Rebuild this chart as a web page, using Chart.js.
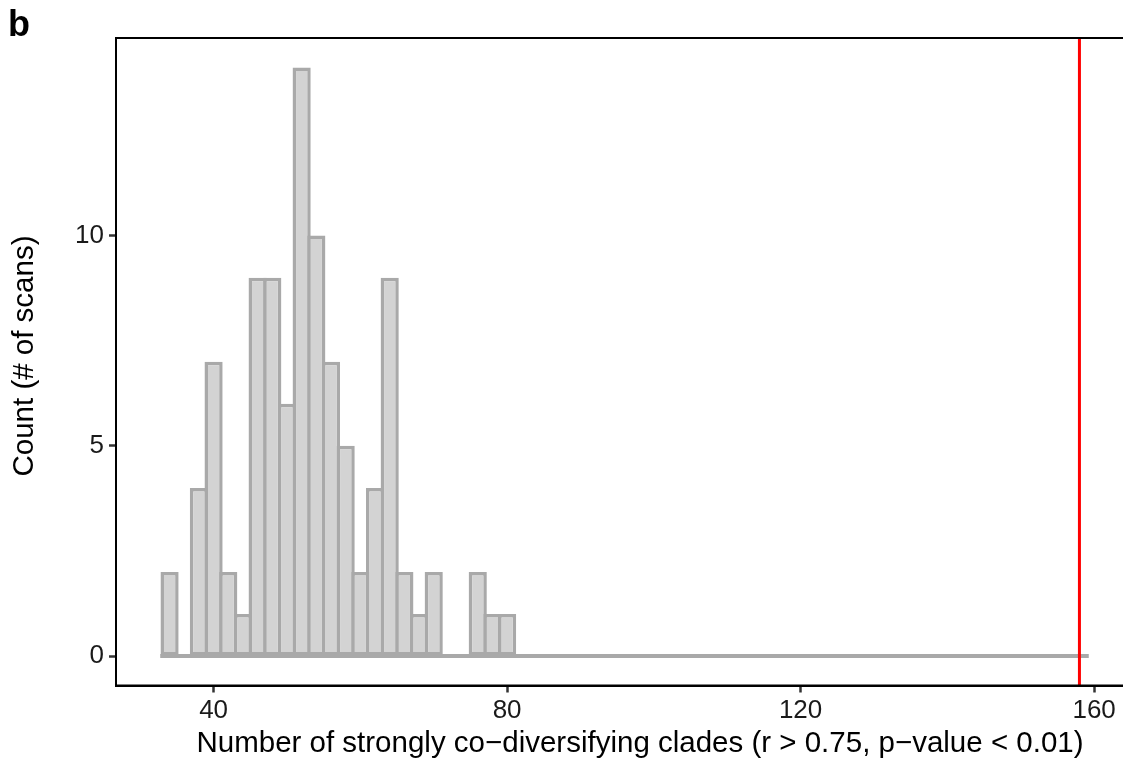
<!DOCTYPE html>
<html>
<head>
<meta charset="utf-8">
<script src="https://cdn.jsdelivr.net/npm/chart.js@4.4.1/dist/chart.umd.min.js"></script>
<style>
  html, body { margin: 0; padding: 0; background: #ffffff; overflow: hidden; width: 1123px; height: 761px; }
  #wrap { position: relative; width: 1150px; height: 761px; }
  canvas { position: absolute; left: 0; top: 0; }
  .txt { position: absolute; font-family: "Liberation Sans", Arial, sans-serif; color: #000; white-space: nowrap; }
  #panel { left: 8px; top: 6px; font-weight: bold; font-size: 36px; line-height: 36px; }
  #xtitle { left: 0; width: 1280px; top: 725px; text-align: center; font-size: 29.5px; line-height: 34px; }
  #ytitle { left: 23px; top: 355.5px; font-size: 29.5px; line-height: 34px;
            transform: translate(-50%, -50%) rotate(-90deg); }
</style>
</head>
<body>
<div id="wrap">
  <canvas id="c" width="1150" height="761"></canvas>
  <div id="panel" class="txt">b</div>
  <div id="xtitle" class="txt"></div>
  <div id="ytitle" class="txt"></div>
</div>
<script>
// ---- data ----
const binCenters = [34, 38, 40, 42, 44, 46, 48, 50, 52, 54, 56, 58, 60, 62, 64, 66, 68, 70, 76, 78, 80];
const counts     = [ 2,  4,  7,  2,  1,  9,  9,  6, 14, 10,  7,  5,  2,  4,  9,  2,  1,  2,  2,  1,  1];
const binWidth = 2;
const binRange = [33, 159];        // full extent of histogram bins (empty bins drawn flat at 0)
const observedValue = [158];       // red vertical line
const xTicks = [40, 80, 120, 160];
const yTicks = [0, 5, 10];
const xLimits = [26.7, 165.3];
const yLimits = [-0.7, 14.7];
const xTitle = "Number of strongly co\u2212diversifying clades (r > 0.75, p\u2212value < 0.01)";
const yTitle = "Count (# of scans)";

document.getElementById('xtitle').textContent = xTitle;
document.getElementById('ytitle').textContent = yTitle;

const FONT = '"Liberation Sans", Arial, sans-serif';
const BAR_FILL = '#d3d3d3';
const BAR_LINE = '#a9a9a9';
const BORDER_W = 3.5;

const barData = binCenters.map((c, i) => ({ x: c, y: counts[i] }));
const baseData = binRange.map(v => ({ x: v, y: 0 }));
const redData = [{ x: observedValue[0], y: yLimits[0] }, { x: observedValue[0], y: yLimits[1] }];

const framePlugin = {
  id: 'frame',
  afterDraw(chart) {
    const a = chart.chartArea, ctx = chart.ctx;
    ctx.save();
    ctx.strokeStyle = '#000000';
    ctx.lineWidth = 2;
    ctx.strokeRect(a.left, a.top, a.right - a.left, a.bottom - a.top);
    ctx.restore();
  }
};

const chart = new Chart(document.getElementById('c'), {
  data: {
    datasets: [
      {
        type: 'line', data: redData, borderColor: '#ff0000', borderWidth: 3,
        pointRadius: 0, order: 0, tension: 0
      },
      {
        type: 'line', data: baseData, borderColor: BAR_LINE, borderWidth: 4,
        pointRadius: 0, order: 1, tension: 0, borderCapStyle: 'square'
      },
      {
        type: 'bar', data: barData, backgroundColor: BAR_FILL, borderColor: BAR_LINE,
        borderWidth: BORDER_W, borderSkipped: false, inflateAmount: 0, order: 2,
        barPercentage: 1, categoryPercentage: 1
      }
    ]
  },
  options: {
    responsive: false,
    animation: false,
    devicePixelRatio: 1,
    layout: { padding: { left: 0, top: 38, right: 17, bottom: 0 } },
    plugins: { legend: { display: false }, tooltip: { enabled: false } },
    scales: {
      x: {
        type: 'linear', min: xLimits[0], max: xLimits[1], offset: false,
        afterBuildTicks: s => { s.ticks = xTicks.map(v => ({ value: v })); },
        afterFit: s => { s.height = 75.5; },
        grid: { offset: false, drawOnChartArea: false, drawTicks: true, tickLength: 7, tickColor: '#333333', tickWidth: 2.5 },
        border: { display: true, color: '#000000', width: 2 },
        ticks: { autoSkip: false, maxRotation: 0, padding: 3, color: '#1a1a1a',
                 font: { family: FONT, size: 26 }, callback: v => String(v) },
        title: { display: false }
      },
      y: {
        type: 'linear', min: yLimits[0], max: yLimits[1],
        afterBuildTicks: s => { s.ticks = yTicks.map(v => ({ value: v })); },
        afterFit: s => { s.width = 116; },
        grid: { drawOnChartArea: false, drawTicks: true, tickLength: 7, tickColor: '#333333', tickWidth: 2.5 },
        border: { display: true, color: '#000000', width: 2 },
        ticks: { autoSkip: false, padding: 5, color: '#1a1a1a',
                 font: { family: FONT, size: 26 }, callback: v => String(v) },
        title: { display: false }
      }
    }
  },
  plugins: [framePlugin]
});

// make each bar exactly one bin wide (outline centred on bin edges, like ggplot)
const sx = chart.scales.x;
const binPx = sx.getPixelForValue(binWidth) - sx.getPixelForValue(0);
chart.data.datasets[2].barThickness = binPx + BORDER_W;
chart.update('none');
</script>
</body>
</html>
